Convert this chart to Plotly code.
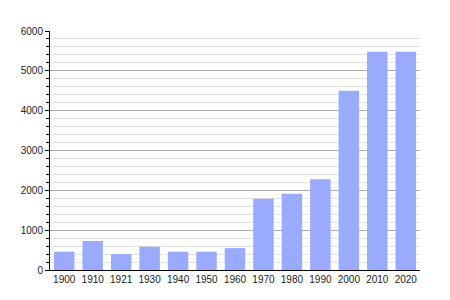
import plotly.graph_objects as go

years = ["1900", "1910", "1921", "1930", "1940", "1950", "1960", "1970", "1980", "1990", "2000", "2010", "2020"]
population = [460, 730, 400, 585, 460, 460, 550, 1790, 1915, 2280, 4500, 5480, 5480]
y_ticks = [0, 1000, 2000, 3000, 4000, 5000, 6000]

fig = go.Figure(go.Bar(x=years, y=population, marker=dict(color="#9aabff", line=dict(width=0))))

fig.update_layout(
    width=450, height=300,
    margin=dict(l=50, r=30, t=31, b=30),
    paper_bgcolor="white", plot_bgcolor="white",
    bargap=0.28, showlegend=False,
    font=dict(family="Liberation Sans, Arial, sans-serif", size=10, color="#222"),
)
fig.update_xaxes(
    type="category", showline=True, linecolor="black", linewidth=1,
    ticks="", showgrid=False, tickfont=dict(size=10),
)
fig.update_yaxes(
    range=[0, 6000], tickvals=y_ticks, showline=True, linecolor="black", linewidth=1,
    ticks="outside", ticklen=4, tickcolor="black",
    showgrid=True, gridcolor="#aaaaaa", gridwidth=1, zeroline=False,
    minor=dict(dtick=200, showgrid=True, gridcolor="#e2e2e2", ticks="outside", ticklen=3, tickcolor="black"),
    tickfont=dict(size=10),
)
fig.write_html("out.html")
